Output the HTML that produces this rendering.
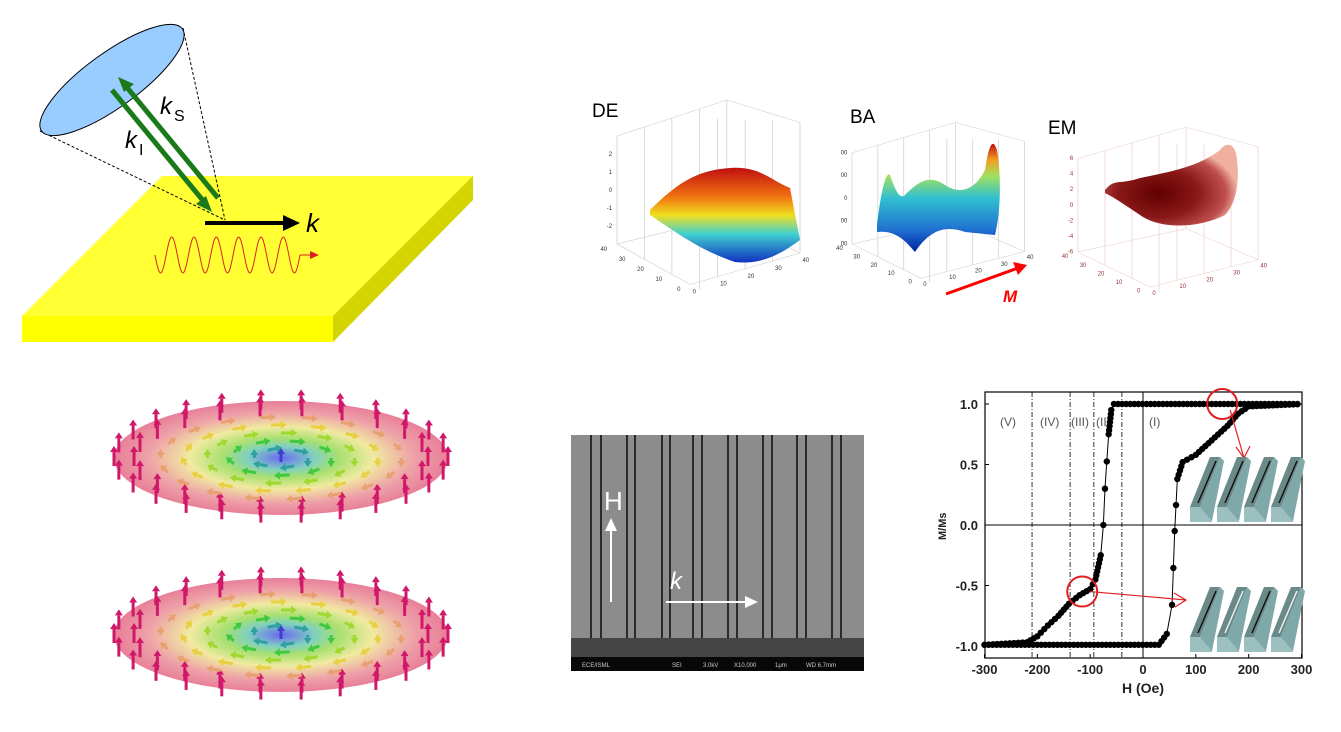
<!DOCTYPE html>
<html><head><meta charset="utf-8"><style>
html,body{margin:0;padding:0;background:#fff;width:1341px;height:732px;overflow:hidden}
svg{display:block}
text{font-family:"Liberation Sans",sans-serif}
</style></head><body>
<svg id="s" width="1341" height="732" viewBox="0 0 1341 732" xmlns="http://www.w3.org/2000/svg">
<defs>
<radialGradient id="sk" cx="50%" cy="50%" r="50%">
<stop offset="0" stop-color="#6a6af0"/><stop offset="0.2" stop-color="#7fd0c0"/><stop offset="0.35" stop-color="#a8e070"/><stop offset="0.55" stop-color="#f0eaa0"/><stop offset="0.8" stop-color="#eea0a8"/><stop offset="1" stop-color="#e87f98"/>
</radialGradient>
<linearGradient id="de" x1="0" y1="0" x2="0" y2="1"><stop offset="0" stop-color="#c01010"/><stop offset="0.3" stop-color="#f07010"/><stop offset="0.5" stop-color="#f0e020"/><stop offset="0.7" stop-color="#40d0d0"/><stop offset="1" stop-color="#1030c0"/></linearGradient>
<linearGradient id="ba" x1="0" y1="0" x2="0" y2="1"><stop offset="0" stop-color="#c01010"/><stop offset="0.15" stop-color="#f0a020"/><stop offset="0.3" stop-color="#a0e060"/><stop offset="0.5" stop-color="#30c0d0"/><stop offset="0.8" stop-color="#2070d0"/><stop offset="1" stop-color="#0020a0"/></linearGradient>
<radialGradient id="em" cx="40%" cy="60%" r="60%"><stop offset="0" stop-color="#600000"/><stop offset="0.5" stop-color="#8a1818"/><stop offset="0.85" stop-color="#c05050"/><stop offset="1" stop-color="#f0b0a0"/></radialGradient>
</defs>
<polygon points="162,176 473,176 333,316 22,316" fill="#ffff33"/>
<polygon points="22,316 333,316 333,342 22,342" fill="#ffff00"/>
<polygon points="333,316 473,176 473,200 333,342" fill="#d4d400"/>
<line x1="40" y1="131" x2="225" y2="220" stroke="#000" stroke-dasharray="3,2" stroke-width="1"/>
<line x1="183" y1="28" x2="225" y2="220" stroke="#000" stroke-dasharray="3,2" stroke-width="1"/>
<ellipse cx="112" cy="80" rx="87" ry="27" transform="rotate(-36 112 80)" fill="#99ccff" stroke="#000" stroke-width="1"/>
<line x1="112" y1="90" x2="205" y2="203" stroke="#1a7a1a" stroke-width="5"/>
<polygon points="212,212 196,204 206,196" fill="#1a7a1a"/>
<line x1="218" y1="198" x2="125" y2="85" stroke="#1a7a1a" stroke-width="5"/>
<polygon points="118,77 134,84 124,92" fill="#1a7a1a"/>
<text x="160" y="114" font-size="24" font-style="italic">k</text><text x="174" y="121" font-size="16">S</text>
<text x="125" y="148" font-size="24" font-style="italic">k</text><text x="139" y="155" font-size="16" font-family="Liberation Serif">I</text>
<line x1="205" y1="223" x2="285" y2="223" stroke="#000" stroke-width="4"/>
<polygon points="300,223 283,215 283,231" fill="#000"/>
<text x="306" y="232" font-size="26" font-style="italic">k</text>
<path id="wave" fill="none" stroke="#e02020" stroke-width="1"/>
<polygon points="319,255 310,251 310,259" fill="#e02020"/>
<line x1="300" y1="255" x2="312" y2="255" stroke="#e02020"/>
<text x="592" y="117" font-size="19">DE</text>
<text x="850" y="123" font-size="19">BA</text>
<text x="1048" y="134" font-size="19">EM</text>
<g id="boxes" fill="none"></g>
<path d="M650,210 C680,180 700,170 730,168 C760,166 770,180 790,188 L800,240 C780,255 760,265 735,262 C700,250 680,235 650,215Z" fill="url(#de)"/>
<path d="M877,225 C880,200 885,170 890,175 C895,190 900,200 905,195 C920,180 930,175 945,185 C960,195 975,190 985,170 C988,150 992,135 997,150 C1002,180 1000,215 995,235 L965,232 C945,225 930,230 915,252 C905,240 895,230 877,232Z" fill="url(#ba)"/>
<path d="M1105,190 C1115,178 1120,185 1140,178 C1180,170 1200,165 1220,150 C1228,140 1236,145 1237,160 C1240,185 1235,205 1225,215 C1200,228 1160,230 1140,215 C1125,205 1115,198 1105,193Z" fill="url(#em)"/>
<line x1="946" y1="294" x2="1018" y2="268" stroke="#f00" stroke-width="3"/>
<polygon points="1027,265 1013,262 1018,275" fill="#f00"/>
<text x="1003" y="302" font-size="17" fill="#f00" font-weight="bold" font-style="italic">M</text>
<ellipse cx="281" cy="458" rx="167" ry="57" fill="url(#sk)"/>
<ellipse cx="281" cy="635" rx="167" ry="57" fill="url(#sk)"/>
<g id="arrows"></g>
<rect x="571" y="435" width="293" height="236" fill="#8c8c8c"/>
<g id="sem" stroke="#2a2a2a" stroke-width="2"></g>
<rect x="571" y="638" width="293" height="20" fill="#454545"/>
<rect x="571" y="657" width="293" height="14" fill="#080808"/>
<text x="582" y="667" font-size="6" fill="#ccc">ECE/ISML</text>
<text x="672" y="667" font-size="6" fill="#ccc">SEI</text>
<text x="703" y="667" font-size="6" fill="#ccc">3.0kV</text>
<text x="734" y="667" font-size="6" fill="#ccc">X10,000</text>
<text x="775" y="667" font-size="6" fill="#ccc">1μm</text>
<text x="806" y="667" font-size="6" fill="#ccc">WD 6.7mm</text>
<text x="604" y="510" font-size="26" fill="#fff">H</text>
<line x1="611" y1="602" x2="611" y2="525" stroke="#fff" stroke-width="2"/>
<polygon points="611,518 605,531 617,531" fill="#fff"/>
<text x="670" y="589" font-size="24" fill="#fff" font-style="italic">k</text>
<line x1="666" y1="602" x2="746" y2="602" stroke="#fff" stroke-width="2"/>
<polygon points="758,602 745,596 745,608" fill="#fff"/>
<g id="hy"></g>
</svg>
<script>
const NS="http://www.w3.org/2000/svg";
function el(p,t,a){const e=document.createElementNS(NS,t);for(const k in a)e.setAttribute(k,a[k]);p.appendChild(e);return e;}
const s=document.getElementById('s');
let d="";for(let x=155;x<=300;x+=1){const y=255+18*Math.sin((x-155)/145*2*Math.PI*6.5);d+=(x==155?"M":"L")+x+","+y.toFixed(1);}
document.getElementById('wave').setAttribute('d',d);
const bx=document.getElementById('boxes');
function box(tx,ty,sx,sy,col,tcol,zl){
 const g=el(bx,'g',{stroke:col,'stroke-width':0.6,transform:`translate(${tx},${ty}) scale(${sx},${sy})`,'vector-effect':'non-scaling-stroke'});
 el(g,'polyline',{points:`0,150 60,195 150,160 150,15 90,-10 0,30 0,150`});
 el(g,'line',{x1:90,y1:-10,x2:90,y2:120});el(g,'line',{x1:90,y1:120,x2:0,y2:150});el(g,'line',{x1:90,y1:120,x2:150,y2:160});
 for(let i=1;i<4;i++){const x=i*22.5;el(g,'line',{x1:x,y1:150+x*0.75,x2:x,y2:30-x*0.44});el(g,'line',{x1:60+i*22.5,y1:195-i*8.75,x2:60+i*22.5,y2:10+i*1});}
 const P=(x,y)=>[tx+x*sx,ty+y*sy];
 ["40","30","20","10","0"].forEach((l,i)=>{const [X,Y]=P(-8+i*15,158+i*11);const t=el(s,'text',{x:X,y:Y,'font-size':6,fill:tcol,'text-anchor':'end'});t.textContent=l;});
 ["0","10","20","30","40"].forEach((l,i)=>{const [X,Y]=P(62+i*22.5,205-i*8.75);const t=el(s,'text',{x:X,y:Y,'font-size':6,fill:tcol});t.textContent=l;});
 zl.forEach((l,i)=>{const [X,Y]=P(-4,30+i*120/(zl.length-1)+2);const t=el(s,'text',{x:X,y:Y,'font-size':6,fill:tcol,'text-anchor':'end'});t.textContent=l;});
}
box(617,109,1.22,0.9,"#ccc","#333",["","2","1","0","-1","-2",""]);
box(852,130,1.15,0.76,"#ccc","#333",["00","00","0","00","00"]);
box(1078,135,1.2,0.78,"#ebcccc","#933",["6","4","2","0","-2","-4","-6"]);
const ag=document.getElementById('arrows');
function arrow(x,y,col,h,dx,dy){const g=el(ag,'g',{});el(g,'line',{x1:x,y1:y,x2:x+dx,y2:y+dy,stroke:col,'stroke-width':3});
 const L=Math.hypot(dx,dy)||1,ux=dx/L,uy=dy/L;el(g,'polygon',{points:`${x+dx+ux*6},${y+dy+uy*6} ${x+dx-uy*4},${y+dy+ux*4} ${x+dx+uy*4},${y+dy-ux*4}`,fill:col});}
[458,635].forEach(cy=>{
 for(let r of [1.0,0.88]){const n=r==1?26:22;for(let i=0;i<n;i++){const a=i/n*2*Math.PI;arrow(281+Math.cos(a)*167*r,cy+Math.sin(a)*57*r+8,'#d0186a',0,0,-14);}}
 const cols=['#e8a070','#e8d040','#a0d830','#40c840','#30a0a0'];
 for(let k=0;k<5;k++){const r=0.72-k*0.14;const n=Math.max(6,18-k*3);for(let i=0;i<n;i++){const a=i/n*2*Math.PI;const x=281+Math.cos(a)*167*r,y=cy+Math.sin(a)*57*r;arrow(x,y,cols[k],0,-Math.sin(a)*10,Math.cos(a)*3);}}
 arrow(281,cy+4,'#4040d0',0,0,-8);
});
const sg=document.getElementById('sem');
[591,601,627,635,662,670,693,702,728,737,763,772,797,806,832,841].forEach(x=>el(sg,'line',{x1:x,y1:435,x2:x,y2:640}));
const hy=document.getElementById('hy');
const X=h=>1143+h*(317/600), Y=m=>525-m*121;
el(hy,'rect',{x:985,y:392,width:317,height:266,fill:'none',stroke:'#000','stroke-width':1.2});
el(hy,'line',{x1:985,y1:525,x2:1302,y2:525,stroke:'#000'});
el(hy,'line',{x1:1143,y1:392,x2:1143,y2:658,stroke:'#000'});
[-210,-138,-93,-40].forEach(h=>el(hy,'line',{x1:X(h),y1:392,x2:X(h),y2:658,stroke:'#000','stroke-dasharray':'5,2,1,2','stroke-width':0.8}));
[-300,-200,-100,0,100,200,300].forEach(h=>{el(hy,'line',{x1:X(h),y1:658,x2:X(h),y2:654,stroke:'#000'});const t=el(hy,'text',{x:X(h),y:674,'font-size':13,'text-anchor':'middle','font-weight':'bold',fill:'#222'});t.textContent=h;});
[[1,"1.0"],[0.5,"0.5"],[0,"0.0"],[-0.5,"-0.5"],[-1,"-1.0"]].forEach(a=>{const t=el(hy,'text',{x:978,y:Y(a[0])+5,'font-size':13,'text-anchor':'end','font-weight':'bold',fill:'#222'});t.textContent=a[1];el(hy,'line',{x1:985,y1:Y(a[0]),x2:989,y2:Y(a[0]),stroke:'#000'});});
let t=el(hy,'text',{x:1143,y:693,'font-size':14,'text-anchor':'middle','font-weight':'bold',fill:'#222'});t.textContent="H  (Oe)";
t=el(hy,'text',{x:0,y:0,'font-size':11,'font-weight':'bold',fill:'#222',transform:'translate(946,540) rotate(-90)'});t.textContent="M/Ms";
[["(V)",1000],["(IV)",1040],["(III)",1071],["(II)",1096],["(I)",1149]].forEach(a=>{const t=el(hy,'text',{x:a[1],y:426,'font-size':12,fill:'#555'});t.textContent=a[0];});
const up=[[-300,-0.99],[-220,-0.97],[-200,-0.92],[-180,-0.83],[-160,-0.75],[-140,-0.65],[-120,-0.58],[-100,-0.53],[-90,-0.45],[-80,-0.25],[-75,0],[-72,0.3],[-65,0.75],[-60,0.95],[-55,1.0],[300,1.0]];
const lo=[[-300,-0.99],[30,-0.99],[45,-0.9],[55,-0.66],[60,-0.05],[65,0.38],[75,0.52],[100,0.58],[130,0.7],[160,0.82],[180,0.92],[200,0.98],[300,1.0]];
function poly(arr){let p=arr.map(a=>X(a[0])+","+Y(a[1])).join(" ");el(hy,'polyline',{points:p,fill:'none',stroke:'#000','stroke-width':1});
 for(let i=0;i<arr.length-1;i++){const [h0,m0]=arr[i],[h1,m1]=arr[i+1];const L=Math.hypot(X(h1)-X(h0),Y(m1)-Y(m0));const n=Math.max(1,Math.floor(L/(Math.abs(m1-m0)>0.2?25:4)));for(let j=0;j<n;j++){const f=j/n;el(hy,'circle',{cx:X(h0+(h1-h0)*f),cy:Y(m0+(m1-m0)*f),r:3.2,fill:'#000'});}}}
poly(up);poly(lo);
el(hy,'circle',{cx:X(150),cy:Y(1),r:15,fill:'none',stroke:'#e02020','stroke-width':2});
el(hy,'circle',{cx:X(-115),cy:Y(-0.55),r:15,fill:'none',stroke:'#e02020','stroke-width':2});
el(hy,'line',{x1:X(165),y1:Y(0.95),x2:1244,y2:458,stroke:'#e02020','stroke-width':1.2});
el(hy,'polyline',{points:"1236,447 1244,458 1250,446",fill:'none',stroke:'#e02020','stroke-width':1.2});
el(hy,'line',{x1:X(-100),y1:Y(-0.55),x2:1186,y2:600,stroke:'#e02020','stroke-width':1.2});
el(hy,'polyline',{points:"1174,593 1186,600 1175,607",fill:'none',stroke:'#e02020','stroke-width':1.2});
function blocks(y0,alt){for(let i=0;i<4;i++){const x=1190+i*27;el(hy,'polygon',{points:`${x},${y0+50} ${x+20},${y0} ${x+30},${y0} ${x+10},${y0+50}`,fill:'#6a8a8a'});
 el(hy,'polygon',{points:`${x},${y0+50} ${x+22},${y0+50} ${x+22},${y0+65} ${x},${y0+65}`,fill:'#9cc0c0'});
 el(hy,'polygon',{points:`${x+10},${y0+50} ${x+30},${y0} ${x+34},${y0+4} ${x+22},${y0+64}`,fill:'#7fa8a8'});
 el(hy,'line',{x1:x+8,y1:y0+46,x2:x+26,y2:y0+4,stroke:(alt&&i%2)?'#eee':'#111','stroke-width':1.5});}}
blocks(457,false);blocks(587,true);
</script>
</body></html>
